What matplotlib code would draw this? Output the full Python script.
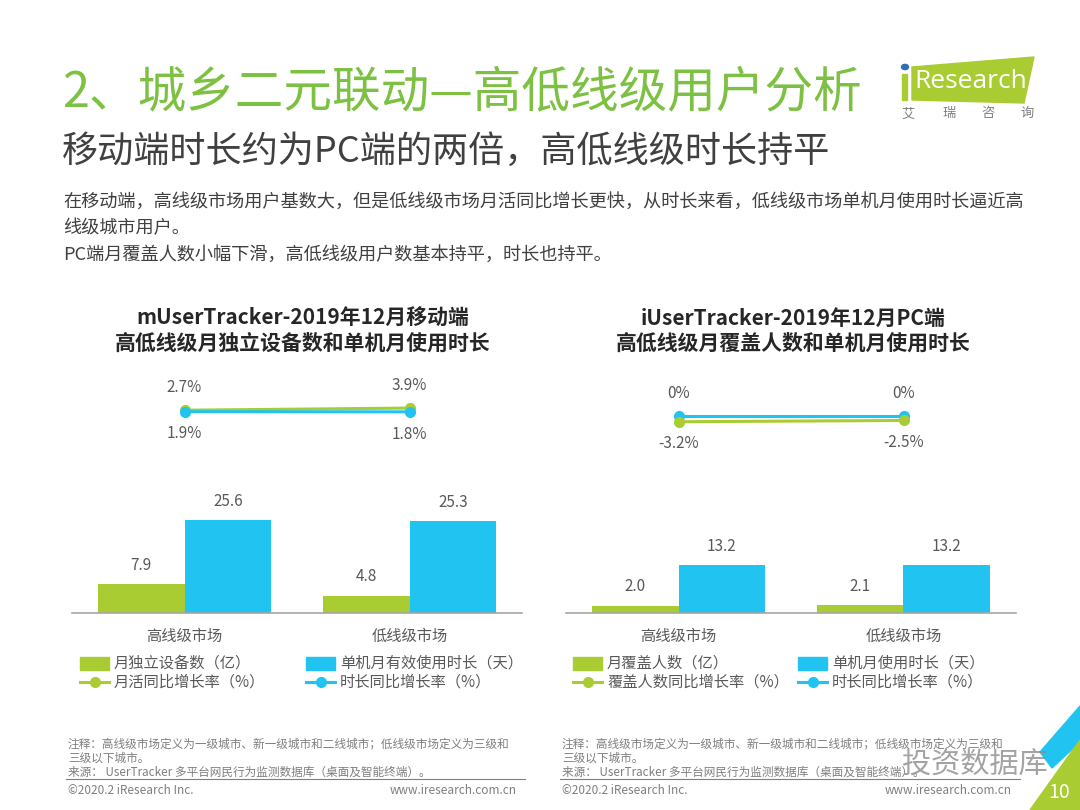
import matplotlib
matplotlib.use('Agg')
import matplotlib.pyplot as plt
from matplotlib.patches import Polygon, Rectangle, Circle
from matplotlib.lines import Line2D

plt.rcParams['font.family'] = ['Noto Sans CJK SC', 'DejaVu Sans']

# ── data ─────────────────────────────────────────────
categories = ['高线级市场', '低线级市场']

mobile_devices = [7.9, 4.8]          # 月独立设备数（亿）
mobile_duration = [25.6, 25.3]       # 单机月有效使用时长（天）
mobile_mau_growth = [2.7, 3.9]       # 月活同比增长率（%）
mobile_dur_growth = [1.9, 1.8]       # 时长同比增长率（%）

pc_users = [2.0, 2.1]                # 月覆盖人数（亿）
pc_duration = [13.2, 13.2]           # 单机月使用时长（天）
pc_user_growth = [-3.2, -2.5]        # 覆盖人数同比增长率（%）
pc_dur_growth = [0.0, 0.0]           # 时长同比增长率（%）

GREEN = '#a9cc32'
BLUE = '#21c4f0'
TITLE_GREEN = '#7dc142'
GRAY = '#595959'

W, H = 1080, 810
fig = plt.figure(figsize=(W / 100, H / 100), dpi=100)


def px_axes(left, top, right, bottom):
    return fig.add_axes([left / W, 1 - bottom / H, (right - left) / W, (bottom - top) / H])


def fx(x):
    return x / W


def fy(y):
    return 1 - y / H


def pct(v):
    return f'{v:g}%'


def draw_panel(x0, x1, bars_a, bars_b, line_a, line_b, a_above, ymin_line):
    # bars
    ax = px_axes(x0, 450, x1, 613)
    xs = range(len(categories))
    bw = 0.385
    ax.bar([x - bw / 2 for x in xs], bars_a, width=bw, color=GREEN)
    ax.bar([x + bw / 2 for x in xs], bars_b, width=bw, color=BLUE)
    for x, va, vb in zip(xs, bars_a, bars_b):
        ax.annotate(f'{va:.1f}', (x - bw / 2, va), xytext=(0, 13.5), textcoords='offset points',
                    ha='center', va='center', fontsize=11, color=GRAY)
        ax.annotate(f'{vb:.1f}', (x + bw / 2, vb), xytext=(0, 13.5), textcoords='offset points',
                    ha='center', va='center', fontsize=11, color=GRAY)
    ax.set_xlim(-0.5, 1.5)
    ax.set_ylim(0, 163 / 3.63)
    ax.set_xticks(list(xs))
    ax.set_xticklabels(categories, fontsize=11, color=GRAY)
    ax.tick_params(axis='x', length=0, pad=10.5)
    ax.set_yticks([])
    for s in ['top', 'left', 'right']:
        ax.spines[s].set_visible(False)
    ax.spines['bottom'].set_color('#a6a6a6')
    ax.spines['bottom'].set_linewidth(1.2)
    ax.patch.set_alpha(0)

    # growth lines
    lx = px_axes(x0, 370, x1, 450)
    lx.plot(list(xs), line_b, color=BLUE, lw=2.2, marker='o', ms=7, zorder=3)
    lx.plot(list(xs), line_a, color=GREEN, lw=2.2, marker='o', ms=7, zorder=2 if a_above else 4)
    for x, va, vb in zip(xs, line_a, line_b):
        da, db = (16, -16) if a_above else (-16, 16)
        lx.annotate(pct(va), (x, va), xytext=(0, da), textcoords='offset points',
                    ha='center', va='center', fontsize=11, color=GRAY)
        lx.annotate(pct(vb), (x, vb), xytext=(0, db), textcoords='offset points',
                    ha='center', va='center', fontsize=11, color=GRAY)
    lx.set_xlim(-0.5, 1.5)
    lx.set_ylim(ymin_line, ymin_line + 80 / 1.8)
    lx.axis('off')


draw_panel(72, 522, mobile_devices, mobile_duration, mobile_mau_growth, mobile_dur_growth,
           True, -19.4)
draw_panel(566, 1016, pc_users, pc_duration, pc_user_growth, pc_dur_growth,
           False, -18.9)

# ── chart titles ─────────────────────────────────────
for cx, l1, l2 in [(303, 'mUserTracker-2019年12月移动端', '高低线级月独立设备数和单机月使用时长'),
                   (793, 'iUserTracker-2019年12月PC端', '高低线级月覆盖人数和单机月使用时长')]:
    fig.text(fx(cx), fy(318), l1, ha='center', va='center', fontsize=15,
             fontweight='bold', color='#262626')
    fig.text(fx(cx), fy(343), l2, ha='center', va='center', fontsize=15,
             fontweight='bold', color='#262626')


# ── legends ──────────────────────────────────────────
def legend_item(x_left, y, color, label, kind):
    if kind == 'bar':
        fig.patches.append(Rectangle((fx(x_left), fy(y + 6.5)), fx(29), 13 / H,
                                     transform=fig.transFigure, color=color))
    else:
        fig.lines.append(Line2D([fx(x_left), fx(x_left + 29)], [fy(y), fy(y)],
                                transform=fig.transFigure, color=color, lw=2.2))
        fig.lines.append(Line2D([fx(x_left + 14.5)], [fy(y)], transform=fig.transFigure,
                                color=color, marker='o', ms=7))
    fig.text(fx(x_left + 34), fy(y), label, ha='left', va='center', fontsize=11, color=GRAY)


legend_item(80, 663, GREEN, '月独立设备数（亿）', 'bar')
legend_item(306, 663, BLUE, '单机月有效使用时长（天）', 'bar')
legend_item(80, 682, GREEN, '月活同比增长率（%）', 'line')
legend_item(306, 682, BLUE, '时长同比增长率（%）', 'line')

legend_item(573, 663, GREEN, '月覆盖人数（亿）', 'bar')
legend_item(798, 663, BLUE, '单机月使用时长（天）', 'bar')
legend_item(573, 682, GREEN, '覆盖人数同比增长率（%）', 'line')
legend_item(798, 682, BLUE, '时长同比增长率（%）', 'line')

# ── headline text ────────────────────────────────────
fig.text(fx(62), fy(93), '2、城乡二元联动—高低线级用户分析', ha='left', va='center',
         fontsize=35, color=TITLE_GREEN, fontweight='light')
fig.text(fx(62), fy(152), '移动端时长约为PC端的两倍，高低线级时长持平', ha='left', va='center',
         fontsize=26, color='#404040')
body = ['在移动端，高线级市场用户基数大，但是低线级市场月活同比增长更快，从时长来看，低线级市场单机月使用时长逼近高',
        '线级城市用户。',
        'PC端月覆盖人数小幅下滑，高低线级用户数基本持平，时长也持平。']
for i, line in enumerate(body):
    fig.text(fx(63), fy(202 + i * 26.5), line, ha='left', va='center', fontsize=13.1, color='#404040')

# ── logo ─────────────────────────────────────────────
fig.patches.append(Polygon([(fx(912), fy(67)), (fx(1034), fy(57)), (fx(1024), fy(103)), (fx(912), fy(100))],
                           closed=True, transform=fig.transFigure, color=GREEN))
fig.patches.append(Rectangle((fx(902), fy(100)), fx(5), 26 / H, transform=fig.transFigure, color=GREEN))
fig.patches.append(Circle((fx(905), fy(67)), 3.5 / W, transform=fig.transFigure, color='#2f6fb7'))
fig.text(fx(914), fy(82), 'Research', ha='left', va='center', fontsize=19, color='white',
         family='Open Sans')
for xc, ch in zip([908, 949, 988, 1027], '艾瑞咨询'):
    fig.text(fx(xc), fy(114), ch, ha='center', va='center', fontsize=9.5, color='#7f7f7f')

# ── footer ───────────────────────────────────────────
notes = ['注释：高线级市场定义为一级城市、新一级城市和二线城市；低线级市场定义为三级和',
         '三级以下城市。',
         '来源： UserTracker 多平台网民行为监测数据库（桌面及智能终端）。']
for x0, x1 in [(66, 525), (560, 1020)]:
    for i, line in enumerate(notes):
        fig.text(fx(x0 + 2), fy(744 + i * 14), line, ha='left', va='center', fontsize=8.4, color='#7f7f7f')
    fig.lines.append(Line2D([fx(x0), fx(x1)], [fy(779), fy(779)], transform=fig.transFigure,
                            color='#7f7f7f', lw=0.8))
    fig.text(fx(x0 + 2), fy(791), '©2020.2 iResearch Inc.', ha='left', va='center',
             fontsize=8.5, color='#7f7f7f')
    fig.text(fx(x1 - 8), fy(791), 'www.iresearch.com.cn', ha='right', va='center',
             fontsize=8.5, color='#7f7f7f')

# corner decoration and page number
fig.patches.append(Polygon([(fx(1040), fy(752)), (fx(1080), fy(706)), (fx(1080), fy(742)), (fx(1052), fy(768))],
                           closed=True, transform=fig.transFigure, color=BLUE))
fig.patches.append(Polygon([(fx(1030), fy(810)), (fx(1080), fy(740)), (fx(1080), fy(810))],
                           closed=True, transform=fig.transFigure, color=GREEN))
fig.text(fx(1059), fy(792), '10', ha='center', va='center', fontsize=14, color='white')

# watermark
fig.text(fx(975), fy(766), '投资数据库', ha='center', va='center', fontsize=21,
         color='#8c8c8c', alpha=0.8, style='italic')

fig.savefig('out.png', dpi=100)
